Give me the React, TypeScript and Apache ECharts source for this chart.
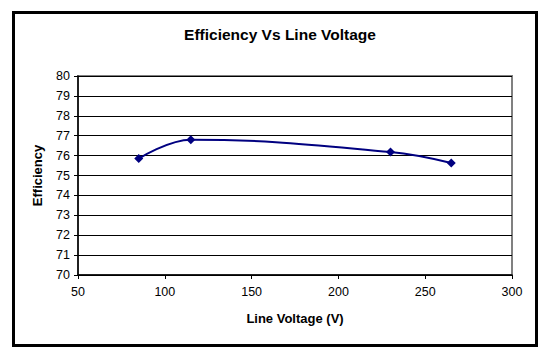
import React, { useEffect, useRef } from "react";
import * as echarts from "echarts";

const voltage = [85, 115, 230, 265];
const efficiency = [75.85, 76.8, 76.18, 75.63];
const xTicks = [50, 300, 50];
const yTicks = [70, 80, 1];

export default function App() {
  const ref = useRef<HTMLDivElement>(null);
  useEffect(() => {
    document.body.style.margin = "0";
    const chart = echarts.init(ref.current!, null, { renderer: "svg" });
    const font = "'Liberation Sans', Arial, sans-serif";
    chart.setOption({
      animation: false,
      backgroundColor: "#fff",
      title: {
        text: "Efficiency Vs Line Voltage",
        left: 275,
        textAlign: "center",
        top: 21,
        textStyle: { fontFamily: font, fontSize: 15.5, fontWeight: "bold", color: "#000" },
      },
      graphic: [
        {
          type: "rect",
          shape: { x: 13.5, y: 12.5, width: 523, height: 333 },
          style: { fill: "none", stroke: "#000", lineWidth: 3 },
          silent: true,
        },
      ],
      grid: {
        left: 78,
        top: 76,
        right: 42,
        bottom: 85,
        show: true,
        borderColor: "#808080",
        borderWidth: 2,
        backgroundColor: "#fff",
      },
      xAxis: {
        type: "value",
        min: xTicks[0],
        max: xTicks[1],
        interval: xTicks[2],
        name: "Line Voltage (V)",
        nameLocation: "middle",
        nameGap: 37,
        nameTextStyle: { fontFamily: font, fontSize: 13, fontWeight: "bold", color: "#000" },
        axisLine: { lineStyle: { color: "#000", width: 1.5 } },
        axisTick: { show: true, length: 4, lineStyle: { color: "#000" } },
        axisLabel: { fontFamily: font, fontSize: 12.5, color: "#000", margin: 10 },
        splitLine: { show: false },
      },
      yAxis: {
        type: "value",
        min: yTicks[0],
        max: yTicks[1],
        interval: yTicks[2],
        name: "Efficiency",
        nameLocation: "middle",
        nameGap: 34,
        nameRotate: 90,
        nameTextStyle: { fontFamily: font, fontSize: 13, fontWeight: "bold", color: "#000" },
        axisLine: { show: true, lineStyle: { color: "#000", width: 1.5 } },
        axisTick: { show: true, length: 4, lineStyle: { color: "#000" } },
        axisLabel: { fontFamily: font, fontSize: 12.5, color: "#000", margin: 8 },
        splitLine: { show: true, lineStyle: { color: "#000", width: 1 } },
      },
      series: [
        {
          type: "line",
          data: voltage.map((v, i) => [v, efficiency[i]]),
          smooth: 0.4,
          symbol: "diamond",
          symbolSize: 9,
          lineStyle: { color: "#000080", width: 2 },
          itemStyle: { color: "#000080" },
        },
      ],
    });
    return () => chart.dispose();
  }, []);
  return <div ref={ref} style={{ width: 554, height: 360 }} />;
}
